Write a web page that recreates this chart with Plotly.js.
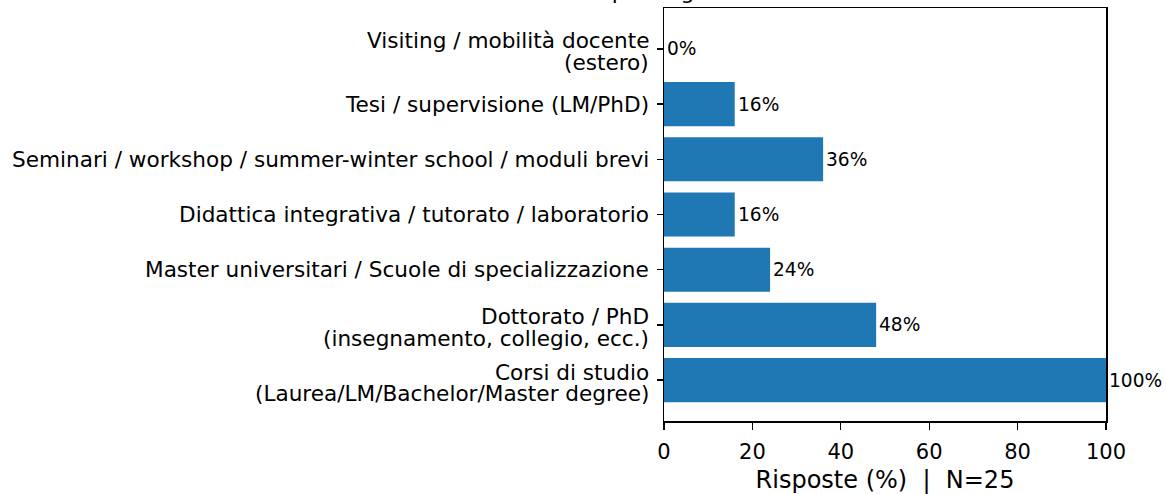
<!DOCTYPE html>
<html>
<head>
<meta charset="utf-8">
<script src="https://cdn.plot.ly/plotly-3.0.1.min.js"></script>
<style>html,body{margin:0;padding:0;background:#fff;}#chart{width:1166px;height:494px;}</style>
</head>
<body>
<div id="chart"></div>
<script>
const categories = [
  ["Corsi di studio", "(Laurea/LM/Bachelor/Master degree)"],
  ["Dottorato / PhD", "(insegnamento, collegio, ecc.)"],
  ["Master universitari / Scuole di specializzazione"],
  ["Didattica integrativa / tutorato / laboratorio"],
  ["Seminari / workshop / summer-winter school / moduli brevi"],
  ["Tesi / supervisione (LM/PhD)"],
  ["Visiting / mobilità docente", "(estero)"]
];
const values = [100, 48, 24, 16, 36, 16, 0];
const xTicks = [0, 20, 40, 60, 80, 100];
const xTitle = "Risposte (%)  |  N=25";
const chartTitle = "Attività didattica svolta per segmento";

const font = "DejaVu Sans, sans-serif";
const ann = [];
values.forEach((v, i) => {
  ann.push({
    x: v, y: i, xref: 'x', yref: 'y', text: v + '%', showarrow: false,
    xanchor: 'left', yanchor: 'middle', xshift: 1,
    font: {family: font, size: 18.6, color: '#000'}
  });
});
categories.forEach((lines, i) => {
  const multi = lines.length > 1;
  lines.forEach((ln, k) => {
    ann.push({
      x: 0, xref: 'paper', y: i, yref: 'y', text: ln, showarrow: false,
      xanchor: 'right', yanchor: 'middle', xshift: -13,
      yshift: multi ? (8 - 21.5 * k) : 0,
      font: {family: font, size: 21.6, color: '#000'}
    });
  });
});
ann.push({
  x: -0.717, xref: 'paper', y: 1, yref: 'paper', yanchor: 'bottom', xanchor: 'left',
  yshift: 2, text: chartTitle, showarrow: false,
  font: {family: font, size: 22, color: '#000'}
});

const trace = {
  type: 'bar', orientation: 'h',
  x: values, y: categories.map((c, i) => i),
  width: 0.8,
  marker: {color: '#1f77b4', line: {width: 0}},
  hoverinfo: 'none'
};

const layout = {
  width: 1166, height: 494,
  margin: {l: 664, r: 60, t: 8, b: 73, pad: 0},
  paper_bgcolor: '#fff', plot_bgcolor: '#fff',
  showlegend: false,
  font: {family: font, color: '#000'},
  xaxis: {
    range: [0, 100], tickvals: xTicks, ticktext: xTicks.map(String),
    ticks: 'outside', ticklen: 7, tickwidth: 1.3, tickcolor: '#000',
    ticklabelstandoff: 4,
    showline: true, linecolor: '#000', linewidth: 1.5, mirror: true,
    showgrid: false, zeroline: false,
    tickfont: {family: font, size: 21, color: '#000'},
    title: {text: xTitle, font: {family: font, size: 24, color: '#000'}, standoff: 10}
  },
  yaxis: {
    range: [-0.74, 6.74], tickvals: categories.map((c, i) => i),
    ticktext: categories.map(() => ''),
    ticks: 'outside', ticklen: 6, tickwidth: 1.3, tickcolor: '#000',
    showline: true, linecolor: '#000', linewidth: 1.5, mirror: true,
    showgrid: false, zeroline: false
  },
  annotations: ann
};

Plotly.newPlot('chart', [trace], layout, {staticPlot: true, displayModeBar: false});
</script>
</body>
</html>
